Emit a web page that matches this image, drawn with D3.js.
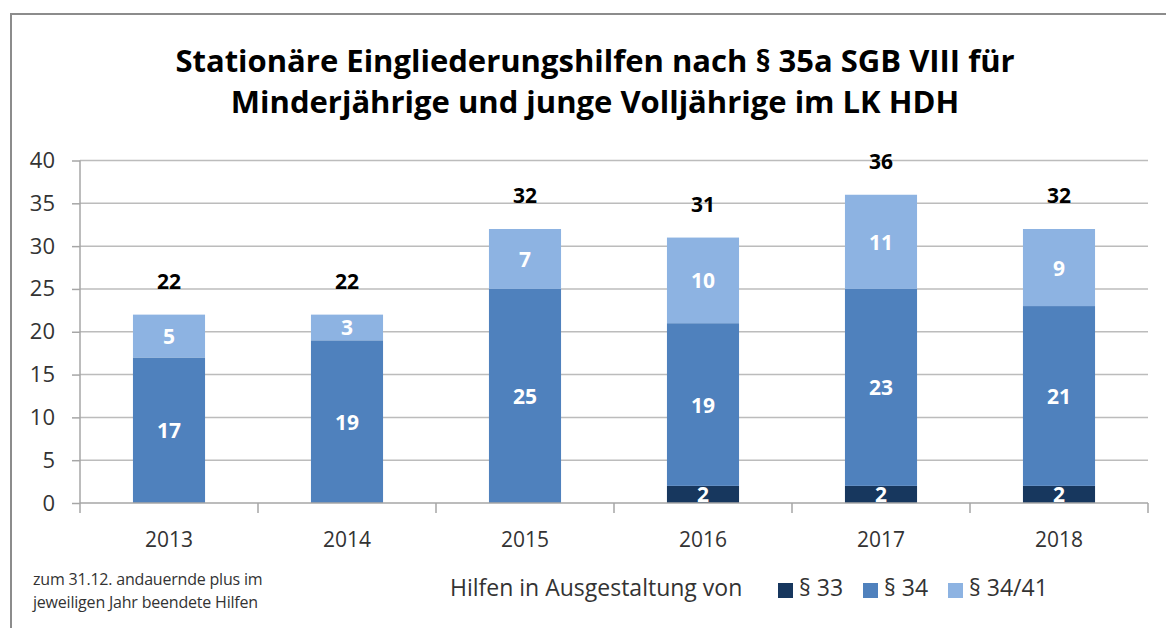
<!DOCTYPE html>
<html>
<head>
<meta charset="utf-8">
<script src="https://cdn.jsdelivr.net/npm/d3@7"></script>
<style>
  body { margin: 0; background: #fff; }
  svg { display: block; font-family: "Open Sans", sans-serif; }
</style>
</head>
<body>
<div id="chart"></div>
<script>
// data
const years = ['2013', '2014', '2015', '2016', '2017', '2018'];
const s33 = [0, 0, 0, 2, 2, 2];
const s34 = [17, 19, 25, 19, 23, 21];
const s3441 = [5, 3, 7, 10, 11, 9];
const seriesNames = ['§ 33', '§ 34', '§ 34/41'];
const yTicks = [0, 5, 10, 15, 20, 25, 30, 35, 40];
const titleLines = [
  'Stationäre Eingliederungshilfen nach § 35a SGB VIII für',
  'Minderjährige und junge Volljährige im LK HDH'
];
const noteLines = ['zum 31.12.  andauernde plus im', 'jeweiligen Jahr beendete Hilfen'];
const legendTitle = 'Hilfen in Ausgestaltung von';

const colors = ['#17375e', '#4f81bd', '#8db3e2'];

const W = 1166, H = 628;
const margin = { top: 160.5, right: 18, bottom: 125, left: 80 };
const width = W - margin.left - margin.right;
const height = H - margin.top - margin.bottom;

const svg = d3.select('#chart').append('svg')
  .attr('width', W)
  .attr('height', H);

// outer frame (left + top edge visible)
svg.append('path')
  .attr('d', `M11,${H} L11,14 L${W},14`)
  .attr('fill', 'none')
  .attr('stroke', '#8c8c8c')
  .attr('stroke-width', 2);

// title
svg.append('text')
  .attr('text-anchor', 'middle')
  .attr('font-weight', 'bold')
  .attr('font-size', 31)
  .attr('fill', '#000')
  .selectAll('tspan')
  .data(titleLines)
  .join('tspan')
  .attr('x', 595)
  .attr('y', (d, i) => 72 + i * 41)
  .text(d => d);

const chart = svg.append('g')
  .attr('transform', `translate(${margin.left}, ${margin.top})`);

// scales
const pad = 0.595;
const xScale = d3.scaleBand().domain(years).range([0, width])
  .paddingInner(pad).paddingOuter(pad / 2);
const yScale = d3.scaleLinear().domain([0, 40]).range([height, 0]);

// gridlines
chart.append('g')
  .selectAll('line')
  .data(yTicks.filter(d => d > 0))
  .join('line')
  .attr('x1', 0)
  .attr('x2', width)
  .attr('y1', d => yScale(d))
  .attr('y2', d => yScale(d))
  .attr('stroke', '#bcbcbc')
  .attr('stroke-width', 1.5);

// stacked data
const rows = years.map((y, i) => ({ year: y, s33: s33[i], s34: s34[i], s3441: s3441[i] }));
const keys = ['s33', 's34', 's3441'];
const stacked = d3.stack().keys(keys)(rows);

chart.append('clipPath').attr('id', 'plotclip')
  .append('rect').attr('x', 0).attr('y', -60).attr('width', width).attr('height', height + 60);

const layers = chart.append('g').selectAll('g')
  .data(stacked)
  .join('g')
  .attr('fill', (d, i) => colors[i]);

layers.selectAll('rect')
  .data(d => d)
  .join('rect')
  .attr('x', d => xScale(d.data.year))
  .attr('width', xScale.bandwidth())
  .attr('y', d => yScale(d[1]))
  .attr('height', d => yScale(d[0]) - yScale(d[1]));

// segment labels
const labels = chart.append('g').attr('clip-path', 'url(#plotclip)');
stacked.forEach(layer => {
  labels.selectAll(null)
    .data(layer.filter(d => d[1] - d[0] > 0))
    .join('text')
    .attr('x', d => xScale(d.data.year) + xScale.bandwidth() / 2)
    .attr('y', d => (yScale(d[0]) + yScale(d[1])) / 2 + 8)
    .attr('text-anchor', 'middle')
    .attr('font-size', 21)
    .attr('font-weight', 'bold')
    .attr('fill', '#fff')
    .text(d => d[1] - d[0]);
});

// totals
const totals = rows.map(r => ({ year: r.year, total: r.s33 + r.s34 + r.s3441 }));
chart.append('g').selectAll('text')
  .data(totals)
  .join('text')
  .attr('x', d => xScale(d.year) + xScale.bandwidth() / 2)
  .attr('y', d => yScale(d.total) - 26)
  .attr('text-anchor', 'middle')
  .attr('font-size', 21)
  .attr('font-weight', 'bold')
  .attr('fill', '#000')
  .text(d => d.total);

// y axis
const yAxis = chart.append('g')
  .call(d3.axisLeft(yScale).tickValues(yTicks).tickSize(8).tickPadding(17));
yAxis.selectAll('line, path').attr('stroke', '#a6a6a6').attr('stroke-width', 1.5);
yAxis.select('.domain').attr('d', `M0,${height}V0`);
yAxis.selectAll('text')
  .attr('font-family', '"Open Sans", sans-serif')
  .attr('font-size', 22)
  .attr('fill', '#333');

// x axis with ticks at category boundaries
const step = xScale.step();
const bounds = d3.range(years.length + 1).map(i => i * step);
const xAxis = chart.append('g')
  .attr('transform', `translate(0, ${height})`);
xAxis.append('line')
  .attr('x1', 0).attr('x2', width)
  .attr('stroke', '#a6a6a6').attr('stroke-width', 1.5);
xAxis.selectAll('line.tick')
  .data(bounds)
  .join('line')
  .attr('class', 'tick')
  .attr('x1', d => d).attr('x2', d => d)
  .attr('y1', 0).attr('y2', 10)
  .attr('stroke', '#a6a6a6').attr('stroke-width', 1.5);
xAxis.selectAll('text')
  .data(years)
  .join('text')
  .attr('x', d => xScale(d) + xScale.bandwidth() / 2)
  .attr('y', 44)
  .attr('text-anchor', 'middle')
  .attr('font-size', 21)
  .attr('fill', '#333')
  .text(d => d);

// footnote
svg.append('text')
  .attr('font-size', 16)
  .attr('fill', '#333')
  .attr('letter-spacing', -0.2)
  .selectAll('tspan')
  .data(noteLines)
  .join('tspan')
  .attr('x', 33)
  .attr('y', (d, i) => 585 + i * 23)
  .text(d => d);

// legend
const legend = svg.append('g').attr('font-size', 23).attr('fill', '#333');
legend.append('text')
  .attr('x', 450).attr('y', 596)
  .text(legendTitle);
const legendX = [778, 863, 948];
const items = legend.selectAll('g.item')
  .data(seriesNames)
  .join('g')
  .attr('class', 'item')
  .attr('transform', (d, i) => `translate(${legendX[i]}, 583)`);
items.append('rect')
  .attr('width', 15).attr('height', 15)
  .attr('fill', (d, i) => colors[i]);
items.append('text')
  .attr('x', 21).attr('y', 13)
  .text(d => d);
</script>
</body>
</html>
